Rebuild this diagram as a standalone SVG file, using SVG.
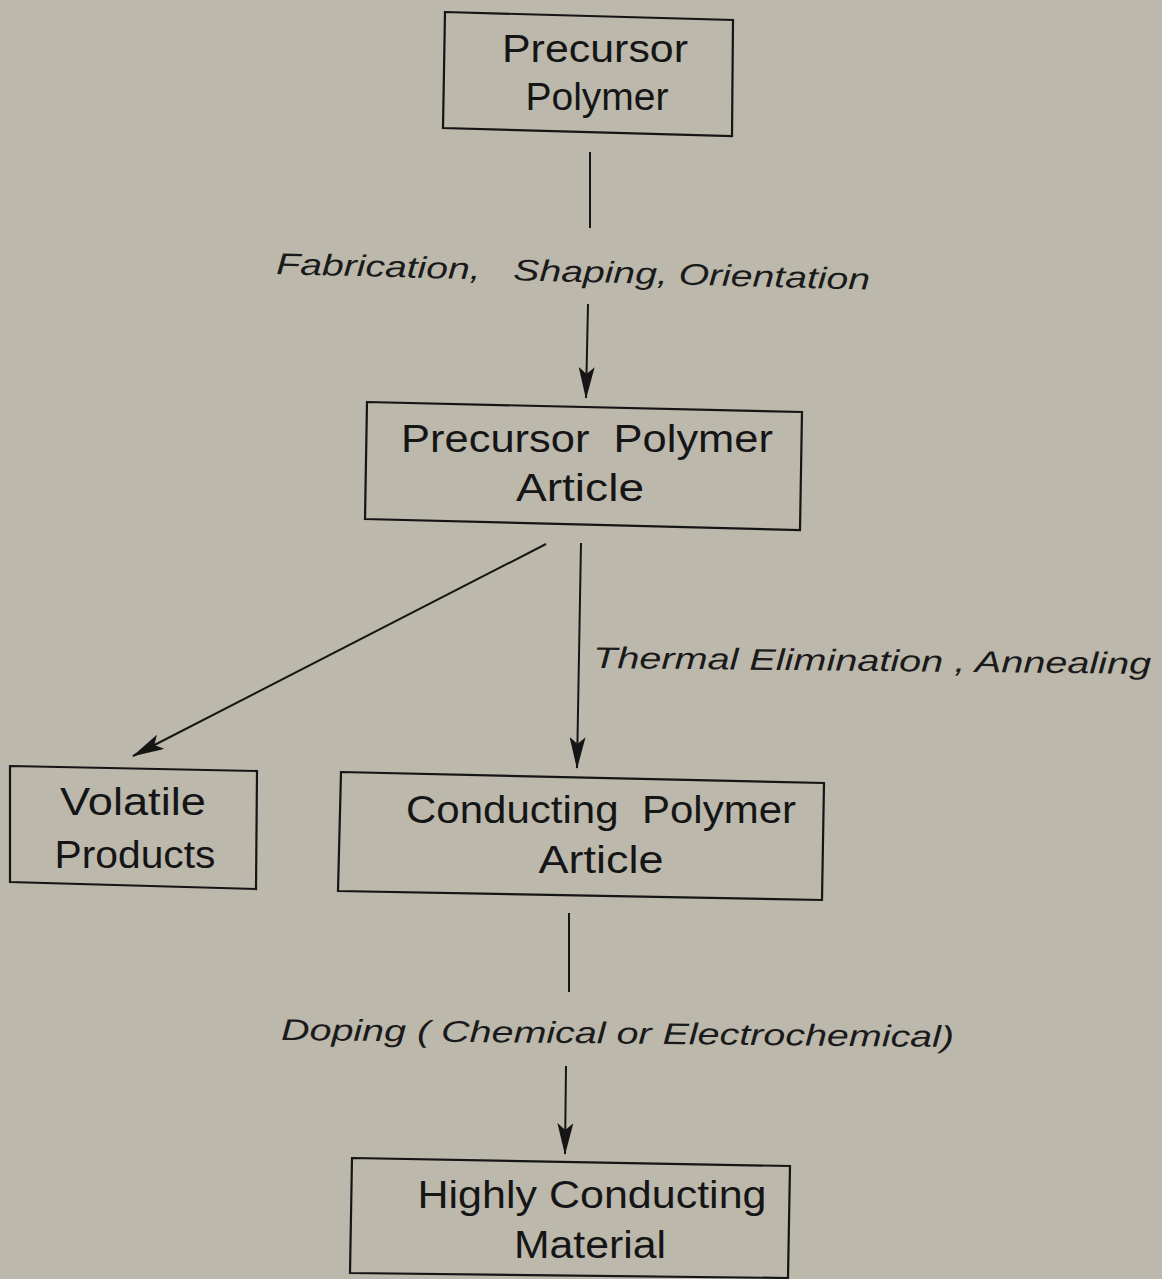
<svg xmlns="http://www.w3.org/2000/svg" width="1162" height="1279" viewBox="0 0 1162 1279">
<defs>
<style>
.box{fill:none;stroke:#151515;stroke-width:2.2}
.t{font-family:"Liberation Sans",Arial,sans-serif;font-size:38px;fill:#151515;text-anchor:middle;white-space:pre}
.l{font-family:"Liberation Sans",Arial,sans-serif;font-size:30px;font-style:italic;fill:#1a1a1a;white-space:pre}
.c{stroke:#151515;stroke-width:2;fill:none}
</style>
<marker id="ah" viewBox="0 0 32 16" refX="31" refY="8" markerWidth="32" markerHeight="16" markerUnits="userSpaceOnUse" orient="auto">
<path d="M0,0 L32,8 L0,16 L7,8 Z" fill="#151515"/>
</marker>
</defs>
<rect width="1162" height="1279" fill="#bcb8ac"/>
<g id="precursor-polymer">
<polygon class="box" points="445,12 733,20 732,136 443,128"/>
<text class="t" x="595" y="62" textLength="186" lengthAdjust="spacingAndGlyphs">Precursor</text>
<text class="t" x="597" y="110" textLength="143" lengthAdjust="spacingAndGlyphs">Polymer</text>
</g>
<g id="precursor-polymer-article">
<polygon class="box" points="367,402 802,412 800,530 365,519"/>
<text class="t" x="587" y="452" textLength="372" lengthAdjust="spacingAndGlyphs" xml:space="preserve">Precursor  Polymer</text>
<text class="t" x="580" y="501" textLength="128" lengthAdjust="spacingAndGlyphs">Article</text>
</g>
<g id="volatile-products">
<polygon class="box" points="10,766 257,771 256,889 10,882"/>
<text class="t" x="133" y="815" textLength="146" lengthAdjust="spacingAndGlyphs">Volatile</text>
<text class="t" x="135" y="868" textLength="161" lengthAdjust="spacingAndGlyphs">Products</text>
</g>
<g id="conducting-polymer-article">
<polygon class="box" points="341,772 824,783 822,900 338,891"/>
<text class="t" x="601" y="823" textLength="390" lengthAdjust="spacingAndGlyphs" xml:space="preserve">Conducting  Polymer</text>
<text class="t" x="601" y="873" textLength="125" lengthAdjust="spacingAndGlyphs">Article</text>
</g>
<g id="highly-conducting-material">
<polygon class="box" points="352,1158 790,1166 788,1278 350,1273"/>
<text class="t" x="592" y="1208" textLength="349" lengthAdjust="spacingAndGlyphs">Highly Conducting</text>
<text class="t" x="590" y="1258" textLength="152" lengthAdjust="spacingAndGlyphs">Material</text>
</g>
<g id="connectors">
<line class="c" x1="590" y1="152" x2="590" y2="228"/>
<line class="c" x1="588" y1="304" x2="586" y2="398" marker-end="url(#ah)"/>
<line class="c" x1="546" y1="544" x2="133" y2="756" marker-end="url(#ah)"/>
<line class="c" x1="581" y1="543" x2="577" y2="768" marker-end="url(#ah)"/>
<line class="c" x1="569" y1="913" x2="569" y2="992"/>
<line class="c" x1="566" y1="1066" x2="565" y2="1154" marker-end="url(#ah)"/>
</g>
<g id="labels">
<text class="l" x="276" y="274" textLength="594" lengthAdjust="spacingAndGlyphs" transform="rotate(1.5 276 274)" xml:space="preserve">Fabrication,   Shaping, Orientation</text>
<text class="l" x="593" y="668" textLength="558" lengthAdjust="spacingAndGlyphs" transform="rotate(0.6 593 668)">Thermal Elimination , Annealing</text>
<text class="l" x="281" y="1040" textLength="673" lengthAdjust="spacingAndGlyphs" transform="rotate(0.6 281 1040)">Doping ( Chemical or Electrochemical)</text>
</g>
</svg>
